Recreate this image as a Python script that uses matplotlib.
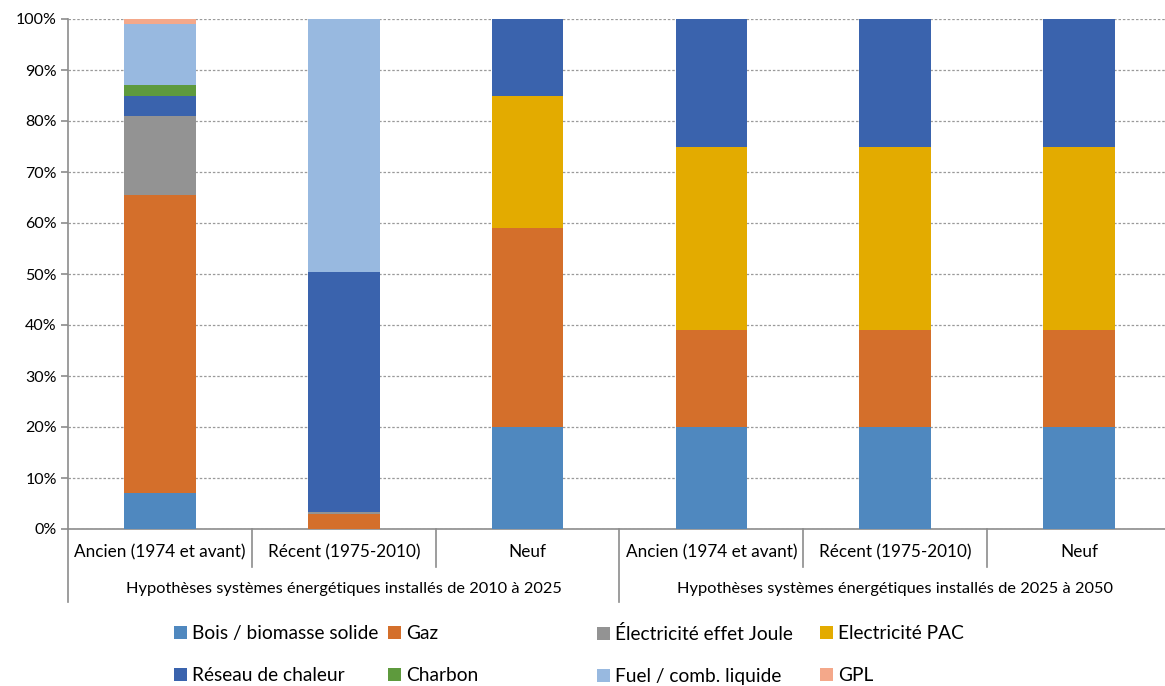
import numpy as np
import matplotlib
matplotlib.use("Agg")
from matplotlib import pyplot as plt
from matplotlib.patches import Patch

plt.rcParams['font.family'] = ['Lato', 'DejaVu Sans']

categories = ["Ancien (1974 et avant)", "Récent (1975-2010)", "Neuf",
              "Ancien (1974 et avant)", "Récent (1975-2010)", "Neuf"]
groups = ["Hypothèses systèmes énergétiques installés de 2010 à 2025",
          "Hypothèses systèmes énergétiques installés de 2025 à 2050"]

series_names = ["Bois / biomasse solide", "Gaz", "Électricité effet Joule", "Electricité PAC",
                "Réseau de chaleur", "Charbon", "Fuel / comb. liquide", "GPL"]

bois    = [7.0, 0.0, 20.0, 20.0, 20.0, 20.0]
gaz     = [58.5, 3.0, 39.0, 19.0, 19.0, 19.0]
joule   = [15.5, 0.3, 0.0, 0.0, 0.0, 0.0]
pac     = [0.0, 0.0, 26.0, 36.0, 36.0, 36.0]
reseau  = [4.0, 47.0, 15.0, 25.0, 25.0, 25.0]
charbon = [2.0, 0.0, 0.0, 0.0, 0.0, 0.0]
fuel    = [12.0, 49.7, 0.0, 0.0, 0.0, 0.0]
gpl     = [1.0, 0.0, 0.0, 0.0, 0.0, 0.0]

colors = ["#4F88BF", "#D46F2B", "#939393", "#E3AB00",
          "#3A63AD", "#5E9A3D", "#98B9E0", "#F4A88A"]

fig = plt.figure(figsize=(11.65, 6.86), dpi=100)
ax = fig.add_axes([68 / 1165, 1 - 529 / 686, 1103 / 1165, 510 / 686])

x = np.arange(len(categories))
bottom = np.zeros(len(categories))
handles = []
for name, vals, c in zip(series_names, [bois, gaz, joule, pac, reseau, charbon, fuel, gpl], colors):
    ax.bar(x, vals, width=0.39, bottom=bottom, color=c, zorder=3)
    bottom += np.array(vals)
    handles.append(Patch(facecolor=c, label=name))

ax.set_xlim(-0.5, len(categories) - 0.5)
ax.set_ylim(0, 100)
ax.set_yticks(range(0, 101, 10))
ax.set_yticklabels([f"{v}%" for v in range(0, 101, 10)], fontsize=11.5)
ax.yaxis.grid(True, linestyle=(0, (2, 1.5)), color="#9a9a9a", linewidth=0.9, zorder=0)
ax.set_xticks([])
for s in ["top", "right"]:
    ax.spines[s].set_visible(False)
for s in ["left", "bottom"]:
    ax.spines[s].set_color("#8c8c8c")
    ax.spines[s].set_linewidth(1.2)
ax.tick_params(axis="y", length=5, color="#8c8c8c", width=1.2, pad=3)

# multi-level category axis
trans = ax.get_xaxis_transform()
for i, lab in enumerate(categories):
    ax.text(i, -0.045, lab, transform=trans, ha="center", va="center", fontsize=12.3)
for i in range(1, len(categories)):
    if i % 3 != 0:
        ax.plot([i - 0.5, i - 0.5], [0, -0.075], transform=trans, color="#8c8c8c", lw=1.2, clip_on=False)
for g, lab in enumerate(groups):
    ax.text(g * 3 + 1, -0.118, lab, transform=trans, ha="center", va="center", fontsize=11.8)
for b in [-0.5, 2.5, 5.5]:
    ax.plot([b, b], [0, -0.143], transform=trans, color="#8c8c8c", lw=1.2, clip_on=False)

# legend: 4 fixed-width columns, 2 rows
col_x = [174, 388, 597, 820]
for k, cx in enumerate(col_x):
    idx = [k, k + 4]
    leg = fig.legend([handles[i] for i in idx], [series_names[i] for i in idx],
                     loc="upper left", bbox_to_anchor=(cx / 1165, 1 - 625 / 686),
                     frameon=False, fontsize=13.8, handlelength=0.7, handleheight=0.7,
                     handletextpad=0.25, labelspacing=1.3, borderpad=0, borderaxespad=0)

fig.savefig("out.png", dpi=100)
